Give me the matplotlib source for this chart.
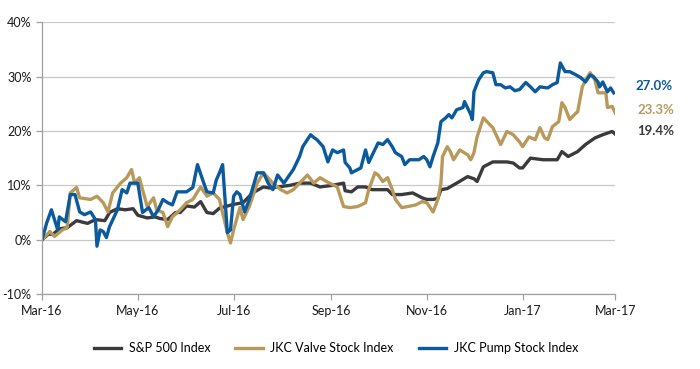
import numpy as np
import pandas as pd
import matplotlib
matplotlib.use("Agg")
import matplotlib.pyplot as plt
import matplotlib.dates as mdates
from matplotlib.ticker import FuncFormatter

plt.rcParams['font.family'] = ['Lato', 'DejaVu Sans']

# 日数(2016-03-01起点)と騰落率[%]
sp_days = [0, 4, 7, 11, 16, 22, 29, 34, 40, 43, 48, 53, 58, 61, 67, 72, 75, 80, 85, 88, 92, 97, 101,
           105, 109, 113, 122, 128, 134, 141, 145, 150, 158, 164, 171, 177, 185, 192, 193, 197, 201,
           206, 210, 215, 220, 223, 229, 236, 242, 245, 249, 252, 254, 258, 264, 271, 275, 277, 281,
           287, 296, 300, 304, 306, 311, 319, 328, 331, 335, 341, 346, 352, 357, 363, 365]
sp_vals = [0, 1, 1, 2, 2.2, 3.5, 3, 3.7, 3.5, 5, 5.7, 5.5, 5.7, 4.5, 4, 4.2, 3.9, 3.7, 5, 5, 6.2, 6, 7,
           5, 4.8, 5.8, 6.5, 6.8, 8.6, 9.7, 9.5, 9.7, 10, 10.4, 10.4, 9.7, 10, 10.4, 9, 8.8, 9.7,
           9.7, 9.2, 9.2, 9.2, 8.3, 8.3, 8.6, 7.7, 7.4, 7.4, 7.6, 9.2, 9.4, 10.4, 11.6, 11.2, 10.7, 13.4,
           14.3, 14.3, 14.1, 13.2, 13.2, 15, 14.7, 14.7, 16.2, 15.3, 16.2, 17.5, 18.7, 19.3, 19.9, 19.4]

valve_days = [0, 5, 8, 13, 16, 18, 22, 24, 31, 35, 39, 42, 45, 50, 54, 57, 59, 62, 64, 67, 71, 73, 77,
              80, 83, 88, 92, 96, 101, 105, 109, 113, 118, 120, 122, 126, 128, 132, 137, 141, 147, 152,
              156, 160, 164, 169, 173, 177, 183, 188, 192, 196, 201, 206, 208, 212, 214, 217, 220, 223,
              225, 229, 233, 238, 242, 245, 249, 252, 254, 255, 258, 260, 262, 266, 271, 273, 275, 277,
              281, 284, 287, 292, 296, 300, 304, 306, 310, 314, 317, 320, 322, 325, 329, 331, 333, 336,
              340, 341, 344, 347, 349, 352, 354, 359, 360, 363, 365]
valve_vals = [0, 1.5, 0.6, 1.8, 2.2, 8.6, 9.6, 7.7, 7.4, 8, 6.8, 5.1, 8.6, 10.4, 11.4, 12.9, 10.4, 11.4,
              9.2, 6.1, 7.7, 5.5, 5, 2.4, 4.2, 5.5, 6.8, 7.4, 9.7, 8, 8.6, 7.4, 1.3, -0.6, 1.8, 5.9, 3.7,
              6.1, 10.4, 12.3, 10.4, 9.2, 8.6, 9.2, 10.4, 11.9, 10.4, 11.4, 10.4, 9.7, 6.1, 5.9, 6.1, 6.8,
              9.2, 12.3, 11.9, 10.7, 11.4, 9.2, 7.4, 5.9, 6.1, 6.4, 7, 6.8, 5.1, 7.4, 10.4, 15.3, 17.1,
              16.2, 14.7, 16.5, 15.6, 14.7, 16, 18.9, 22.4, 21.5, 20.6, 17.5, 19.9, 19.3, 18, 17.1, 18.9,
              18.4, 20.6, 18.7, 18.4, 20.8, 21.7, 25.2, 24.3, 22.1, 23.3, 23.5, 28.1, 29.8, 30.7, 29.4,
              27, 27, 24.3, 24.5, 23.3]

pump_days = [0, 3, 6, 10, 11, 15, 18, 21, 24, 27, 31, 34, 35, 37, 39, 41, 43, 48, 51, 54, 56, 61, 62,
             64, 68, 71, 74, 77, 80, 83, 86, 92, 96, 99, 103, 105, 109, 111, 113, 115, 118, 120, 122,
             124, 126, 129, 132, 137, 141, 144, 147, 150, 154, 160, 164, 166, 171, 173, 175, 179, 182,
             185, 188, 192, 193, 196, 197, 201, 203, 206, 208, 211, 214, 217, 220, 223, 225, 229, 231,
             234, 240, 243, 245, 247, 249, 252, 254, 257, 259, 261, 264, 268, 269, 273, 274, 275, 278,
             281, 283, 287, 289, 292, 295, 298, 301, 304, 308, 311, 314, 317, 322, 325, 328, 330, 333,
             336, 340, 343, 346, 349, 351, 354, 355, 357, 360, 362, 364]
pump_vals = [0, 3.1, 5.5, 1.8, 4.2, 3.3, 8.3, 8.3, 5.1, 4.6, 5.1, 3.7, -1.2, 1.8, 1.5, 0.4, 2.4, 5.5,
             9.2, 8.6, 10.4, 10.4, 8.6, 5, 5.9, 4.2, 5.5, 7.4, 6.8, 6.4, 8.8, 8.8, 9.6, 13.8, 10.4, 8.8,
             8.6, 11, 12.3, 13.8, 1.3, 1.8, 8, 8.8, 8.3, 5.1, 7.4, 12.3, 12.3, 10.4, 9.2, 11.9, 10.4,
             12.9, 15.3, 17.1, 19.3, 18.8, 18.4, 17.1, 14.3, 16.5, 16, 16.5, 14.2, 13.2, 12.3, 12.9,
             13.2, 16.5, 14.2, 16, 17.8, 17.5, 18.4, 17.1, 16, 15.3, 13.8, 14.7, 14.7, 15.3, 14.7, 13.4,
             15.3, 17.8, 21.7, 22.4, 23, 22.4, 23.9, 24.3, 25.4, 23, 22.1, 27.2, 29.4, 30.7, 30.9, 30.7,
             28.5, 28.5, 27.9, 28.1, 27.4, 27.6, 28.9, 28.1, 27.2, 28.1, 27.9, 28.5, 28.9, 32.5, 30.9,
             30.9, 30.3, 29.8, 29, 30.3, 30, 29, 28.1, 29, 27.2, 27.9, 27]

series_names = ["S&P 500 Index", "JKC Valve Stock Index", "JKC Pump Stock Index"]
colors = ["#3b3b3d", "#b9995a", "#0b5a9e"]
end_labels = ["19.4%", "23.3%", "27.0%"]
label_dy = [2, 2, 5]  # ラベルの縦ずれ(pt)

start = pd.Timestamp("2016-03-01")
def to_dates(d):
    return start + pd.to_timedelta(d, unit="D")

fig = plt.figure(figsize=(7, 3.69), dpi=100)
ax = fig.add_axes([0.06, 0.203, 0.819, 0.737])

data = [(sp_days, sp_vals), (valve_days, valve_vals), (pump_days, pump_vals)]
for (d, v), name, c in zip(data, series_names, colors):
    ax.plot(to_dates(d), v, color=c, lw=2.4, label=name, solid_joinstyle="round")

ax.set_ylim(-10, 40)
ax.set_yticks(np.arange(-10, 41, 10))
ax.yaxis.set_major_formatter(FuncFormatter(lambda v, p: "%d%%" % v))
ax.set_xlim(start, pd.Timestamp("2017-03-01"))
ax.xaxis.set_major_locator(mdates.MonthLocator(bymonth=[1, 3, 5, 7, 9, 11]))
ax.xaxis.set_major_formatter(mdates.DateFormatter("%b-%y"))
ax.grid(axis="y", color="#c8c8c8", lw=0.9)
ax.set_axisbelow(True)
for s in ["top", "right"]:
    ax.spines[s].set_visible(False)
for s in ["left", "bottom"]:
    ax.spines[s].set_color("#a0a0a0")
    ax.spines[s].set_linewidth(0.9)
ax.tick_params(axis="both", colors="#a0a0a0", labelcolor="#1a1a1a", labelsize=9, length=4, width=0.9)
ax.tick_params(axis="x", pad=4)

# 右端の数値ラベル
for (d, v), lab, c, dy in zip(data, end_labels, colors, label_dy):
    ax.annotate(lab, xy=(to_dates([d[-1]])[0], v[-1]), xytext=(16, dy), textcoords="offset points",
                color=c, fontsize=9.5, fontweight="bold", va="center", ha="left",
                annotation_clip=False)

fig.legend(loc="lower center", bbox_to_anchor=(0.48, 0.01), ncol=3, frameon=False, fontsize=9,
           handlelength=2.2, columnspacing=2.0, handletextpad=0.6)

fig.savefig("out.png", dpi=100)
